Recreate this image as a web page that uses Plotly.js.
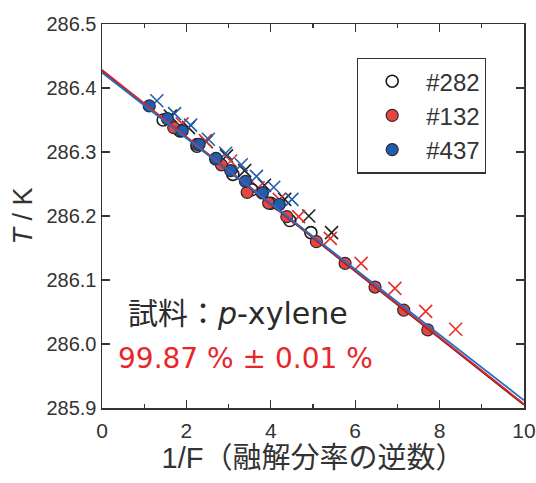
<!DOCTYPE html>
<html>
<head>
<meta charset="utf-8">
<script src="https://cdn.plot.ly/plotly-3.0.1.min.js"></script>
<style>html,body{margin:0;padding:0;background:#fff;}#chart{width:536px;height:483px;}</style>
</head>
<body>
<div id="chart"></div>
<script>
// ---- data ----
const s282CircleX = [1.45, 1.85, 2.25, 2.7, 3.1, 3.55, 4.0, 4.45, 4.95];
const s282CircleY = [286.350, 286.333, 286.309, 286.289, 286.265, 286.241, 286.220, 286.193, 286.174];
const s282CrossX  = [1.62, 2.05, 2.47, 2.95, 3.38, 3.85, 4.33, 4.9, 5.44];
const s282CrossY  = [286.356, 286.338, 286.316, 286.294, 286.271, 286.248, 286.226, 286.200, 286.174];

const s132CircleX = [1.7, 2.25, 2.83, 3.44, 3.95, 4.38, 5.08, 5.76, 6.47, 7.15, 7.72];
const s132CircleY = [286.338, 286.312, 286.280, 286.237, 286.220, 286.199, 286.160, 286.126, 286.089, 286.053, 286.022];
const s132CrossX  = [1.9, 2.45, 3.05, 3.7, 4.2, 4.66, 5.41, 6.14, 6.94, 7.67, 8.38];
const s132CrossY  = [286.344, 286.318, 286.286, 286.244, 286.226, 286.199, 286.165, 286.126, 286.087, 286.051, 286.023];

const s437CircleX = [1.12, 1.55, 1.9, 2.3, 2.7, 3.05, 3.4, 3.8, 4.2];
const s437CircleY = [286.372, 286.352, 286.333, 286.312, 286.290, 286.271, 286.254, 286.236, 286.218];
const s437CrossX  = [1.3, 1.72, 2.1, 2.52, 2.93, 3.3, 3.66, 4.07, 4.5];
const s437CrossY  = [286.380, 286.360, 286.342, 286.320, 286.298, 286.280, 286.262, 286.245, 286.226];

const fitX     = [0, 10];
const fitBlack = [286.427, 285.905];
const fitRed   = [286.428, 285.906];
const fitBlue  = [286.424, 285.912];

const seriesNames = ['#282', '#132', '#437'];
const xTickVals = [0, 2, 4, 6, 8, 10];
const yTickVals = [285.9, 286.0, 286.1, 286.2, 286.3, 286.4, 286.5];
const yTickText = ['285.9', '286.0', '286.1', '286.2', '286.3', '286.4', '286.5'];

const RED = '#e8463c', BLUE = '#1f5db0', DARK = '#2a2a3a';
const SANS = 'Liberation Sans, Arial, sans-serif';
const WIDE = 'DejaVu Sans, Noto Sans CJK JP, sans-serif';

function cross(x, y, color) {
  return {x: x, y: y, type: 'scatter', mode: 'markers', showlegend: false, hoverinfo: 'skip',
    marker: {symbol: 'x-thin-open', size: 13, color: color, line: {color: color, width: 1.6}}};
}
function fit(y, color, w) {
  return {x: fitX, y: y, type: 'scatter', mode: 'lines', showlegend: false, hoverinfo: 'skip',
    line: {color: color, width: w}};
}

const traces = [
  cross(s282CrossX, s282CrossY, '#222'),
  cross(s132CrossX, s132CrossY, '#e8302a'),
  cross(s437CrossX, s437CrossY, BLUE),
  {x: s282CircleX, y: s282CircleY, name: seriesNames[0], legendgroup: 'a', type: 'scatter', mode: 'markers',
    marker: {symbol: 'circle-open', size: 12, color: '#1a1a1a', line: {color: '#1a1a1a', width: 1.6}}},
  {x: s132CircleX, y: s132CircleY, name: seriesNames[1], legendgroup: 'b', type: 'scatter', mode: 'markers',
    marker: {symbol: 'circle', size: 12, color: RED, line: {color: DARK, width: 1.2}}},
  {x: s437CircleX, y: s437CircleY, name: seriesNames[2], legendgroup: 'c', type: 'scatter', mode: 'markers',
    marker: {symbol: 'circle', size: 12, color: BLUE, line: {color: DARK, width: 1.2}}},
  fit(fitBlack, '#5a1a1a', 2),
  fit(fitRed, '#d8262a', 2),
  fit(fitBlue, '#1f6fc8', 1.8)
];

const layout = {
  width: 536, height: 483,
  margin: {l: 102, r: 12, t: 24, b: 75},
  paper_bgcolor: '#fff', plot_bgcolor: '#fff',
  font: {family: SANS, color: '#333'},
  xaxis: {
    range: [0, 10], tickvals: xTickVals, ticks: 'inside', ticklen: 8, tickwidth: 1.3, tickcolor: '#333',
    minor: {dtick: 1, ticks: 'inside', ticklen: 4, tickwidth: 1.3, tickcolor: '#333'},
    showline: true, linecolor: '#333', linewidth: 1.5, mirror: 'ticks', showgrid: false, zeroline: false,
    tickfont: {size: 21, color: '#333'}, ticklabelstandoff: 3,
    title: {text: '1/F（融解分率の逆数）', font: {size: 29, color: '#333', family: 'Liberation Sans, Noto Sans CJK JP, sans-serif'}, standoff: 6}
  },
  yaxis: {
    range: [285.9, 286.5], tickvals: yTickVals, ticktext: yTickText, ticks: 'inside', ticklen: 8, tickwidth: 1.3, tickcolor: '#333',
    showline: true, linecolor: '#333', linewidth: 1.5, mirror: 'ticks', showgrid: false, zeroline: false,
    tickfont: {size: 20, color: '#333'}, ticklabelstandoff: 0,
    title: {text: '<i>T</i> / K', font: {size: 27, color: '#333'}, standoff: 6}
  },
  showlegend: true,
  legend: {
    x: 0.604, y: 0.912, xanchor: 'left', yanchor: 'top',
    bordercolor: '#333', borderwidth: 1.3, bgcolor: '#fff',
    font: {size: 24, color: '#333', family: SANS},
    tracegroupgap: 0, traceorder: 'grouped', itemwidth: 58
  },
  annotations: [
    {xref: 'paper', yref: 'paper', x: 0.058, y: 0.247, xanchor: 'left', yanchor: 'middle', showarrow: false,
      text: '試料：<i>p</i>-xylene', font: {size: 30, color: '#2a2a2a', family: WIDE}},
    {xref: 'paper', yref: 'paper', x: 0.033, y: 0.13, xanchor: 'left', yanchor: 'middle', showarrow: false,
      text: '99.87 % ± 0.01 %', font: {size: 28, color: '#e8262a', family: WIDE}}
  ]
};

Plotly.newPlot('chart', traces, layout, {displayModeBar: false, staticPlot: true});
</script>
</body>
</html>
